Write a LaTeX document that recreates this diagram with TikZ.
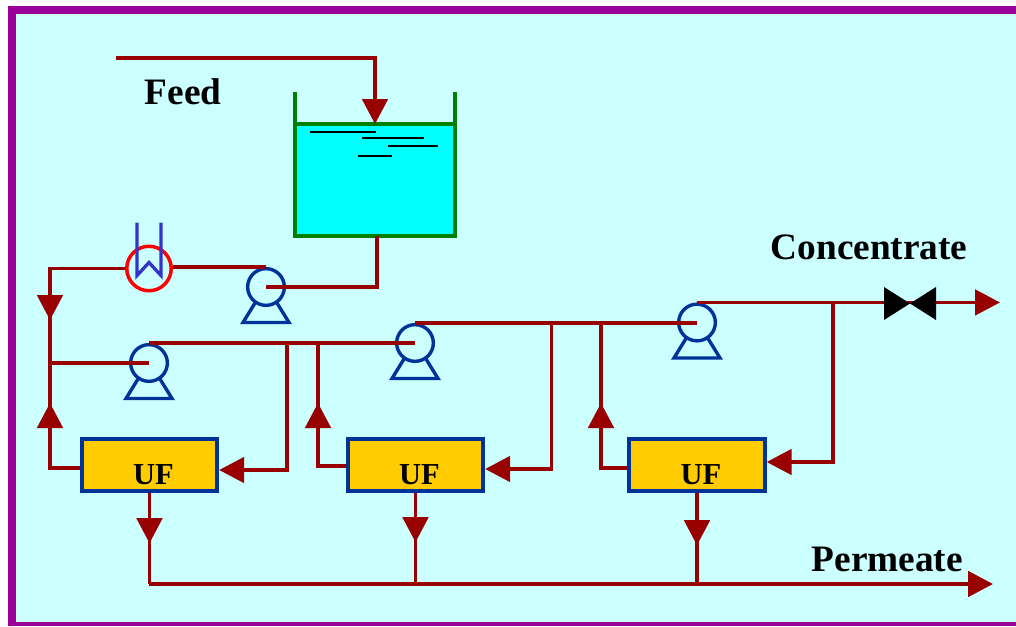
\documentclass[tikz,border=0pt]{standalone}
\usepackage{fontspec}
\setmainfont{Liberation Serif}
\usetikzlibrary{arrows.meta}
\definecolor{framecol}{HTML}{990099}
\definecolor{backcol}{HTML}{CCFFFF}
\definecolor{pipecol}{HTML}{990000}
\definecolor{pumpcol}{HTML}{003399}
\definecolor{tankcol}{HTML}{008000}
\definecolor{watercol}{HTML}{00FFFF}
\definecolor{boxcol}{HTML}{FFCC00}
\definecolor{coilcol}{HTML}{3333CC}
\tikzset{
  pipe/.style={draw=pipecol,line width=3.4pt},
  flow/.style={-{Triangle[length=25pt,width=25.5pt,color=pipecol]}},
  onward/.style={shorten <=-6pt},
  pumpnode/.style={shape=circle,draw=pumpcol,line width=3.4pt,minimum size=36.7pt,inner sep=0pt},
  pumpleg/.style={draw=pumpcol,line width=3.4pt},
  ufbox/.style={shape=rectangle,draw=pumpcol,fill=boxcol,line width=3.8pt,
                minimum width=135.6pt,minimum height=52.6pt,inner sep=0pt},
  uftext/.style={font=\fontsize{30.5}{30.5}\selectfont\bfseries,anchor=base,inner sep=0pt},
  bigtext/.style={font=\fontsize{37.3}{37.3}\selectfont\bfseries,anchor=base west,inner sep=0pt},
}
\begin{document}
\begin{tikzpicture}[x=1pt,y=-1pt]
\useasboundingbox (0,0) rectangle (1016,626);
\fill[framecol] (8,6) rectangle (1016,626);
\fill[backcol] (16,14) rectangle (1016,622);

%% tank
\node[shape=rectangle,fill=watercol,minimum width=160pt,minimum height=112pt,inner sep=0pt] (tank) at (375,180) {};
\draw[draw=tankcol,line width=3.6pt] (tank.north west) ++(0,-32) -- (tank.south west) -- (tank.south east) -- ++(0,-144);
\draw[draw=tankcol,line width=3.6pt] (tank.north west) -- (tank.north east);
\foreach \xa/\xb/\yl in {310/376/132,362/424/138,388/438/146,358/392/156}
  \draw[line width=1.5pt] (\xa,\yl) -- (\xb,\yl);

%% heater
\node[shape=circle,draw=red,line width=3.5pt,minimum size=44.5pt,inner sep=0pt] (hx) at (149,268.5) {};
\draw[draw=coilcol,line width=3.3pt] (hx.center) ++(-12,-46) -- ++(0,53) -- ++(12,-13) -- ++(12,13) -- ++(0,-53);

%% pumps
\foreach \nmp/\coord in {pump1/{266,287},pump2/{149,363},pump3/{415,343},pump4/{697,322.5}}
{
  \node[pumpnode] (\nmp) at (\coord) {};
  \draw[pumpleg] (\nmp.center) ++(-11,16) -- ++(-12,19.5) -- ++(46,0) -- ++(-12,-19.5);
}

%% filters
\foreach \nuf/\coord/\xt in {uf1/{149.5,465}/153.5,uf2/{415.5,465}/419.5,uf3/{697,465}/701}
{
  \node[ufbox] (\nuf) at (\coord) {};
  \node[uftext] (\nuf text) at (\xt,484) {UF};
}

%% junctions and arrow ends
\coordinate (feedstart) at (116,58);
\coordinate (tankin) at (375,124);
\coordinate (tankout) at (377,236);
\coordinate (tip1) at (50,320);
\coordinate (tip2) at (50,403);
\coordinate (tee0) at (50,363);
\coordinate (tip3) at (318,403);
\coordinate (tip4) at (601,403);
\coordinate (tee1) at (287,344.6);
\coordinate (tee2) at (318,344.6);
\coordinate (tee3) at (551.5,324.6);
\coordinate (tee4) at (601,324.6);
\coordinate (tee5) at (833,304);
\coordinate (valve) at (910,303.5);
\coordinate (concout) at (1000,304);
\coordinate (bus) at (149,584);
\coordinate (permout) at (993,584);

%% feed side
\draw[pipe,flow] (feedstart) -| (tankin);
\draw[pipe] (tankout) |- (pump1.center);
\draw[pipe] (pump1.north) -- (pump1.north -| hx.east);
\draw[pipe,flow] (hx.west) -| (tip1);
\draw[pipe,onward] (tip1) -- (tee0) -- (pump2.center);
\draw[pipe,flow] ([yshift=-3pt]uf1.west) -| (tip2);
\draw[pipe,onward] (tip2) -- (tee0);

%% stages
\draw[pipe] (pump2.north) -- (pump2.north -| pump3.center);
\draw[pipe] (pump3.north) -- (pump3.north -| pump4.center);
\draw[pipe,flow] (tee1) |- ([yshift=-5pt]uf1.east);
\draw[pipe,flow] ([yshift=-1pt]uf2.west) -| (tip3);
\draw[pipe,onward] (tip3) -- (tee2);
\draw[pipe,flow] (tee3) |- ([yshift=-4pt]uf2.east);
\draw[pipe,flow] ([yshift=-3pt]uf3.west) -| (tip4);
\draw[pipe,onward] (tip4) -- (tee4);
\draw[pipe,flow] (tee5) |- ([yshift=3pt]uf3.east);
\draw[pipe,flow] (pump4.north) -- (pump4.north -| concout);
\fill (valve) ++(-26,-16.5) -- ++(52,33) -- ++(0,-33) -- ++(-52,33) -- cycle;

%% permeate
\foreach \nuf/\ltip in {uf1/50,uf2/49,uf3/52}
{
  \draw[pipe,flow] (\nuf.south) -- ++(0,\ltip) coordinate (\nuf tip);
  \draw[pipe,onward] (\nuf tip) -- (\nuf tip |- bus);
}
\draw[pipe,flow] (bus) -- (permout);

%% labels
\node[bigtext] (feedlabel) at (144.5,104) {Feed};
\node[bigtext] (conclabel) at (770.5,259) {Concentrate};
\node[bigtext] (permlabel) at (811.5,571.5) {Permeate};
\end{tikzpicture}
\end{document}
